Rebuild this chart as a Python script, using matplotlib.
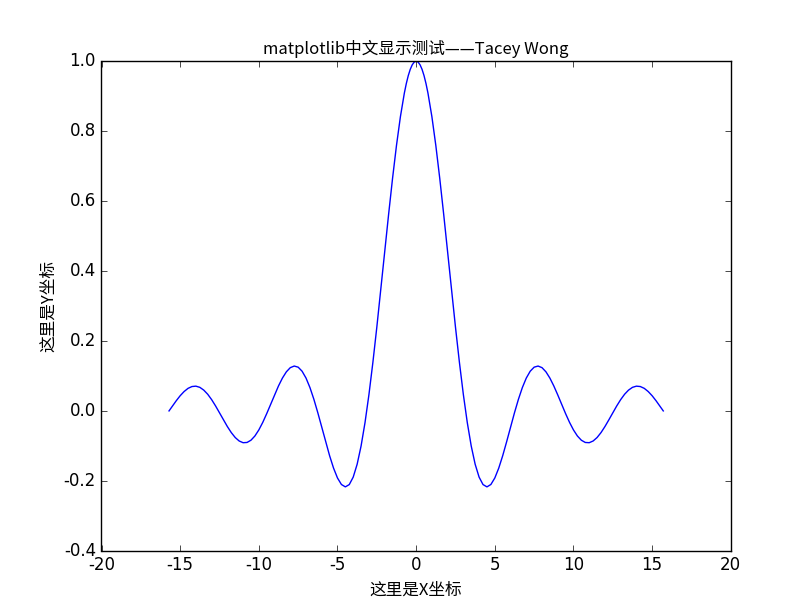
import matplotlib
matplotlib.use('Agg')
import matplotlib.pyplot as plt

plt.style.use('classic')
plt.rcParams['axes.unicode_minus'] = False

x_pos = [0.0, 0.125, 0.25, 0.375, 0.5, 0.625, 0.75, 1.0, 1.25, 1.5, 1.75,
         2.0, 2.25, 2.5, 2.75, 3.0, 3.25, 3.5, 3.75, 4.0, 4.25, 4.5, 4.75,
         5.0, 5.25, 5.5, 5.75, 6.0, 6.25, 6.5, 6.75, 7.0, 7.25, 7.5, 7.75,
         8.0, 8.25, 8.5, 8.75, 9.0, 9.25, 9.5, 9.75, 10.0, 10.25, 10.5,
         10.75, 11.0, 11.25, 11.5, 11.75, 12.0, 12.25, 12.5, 12.75, 13.0,
         13.25, 13.5, 13.75, 14.0, 14.25, 14.5, 14.75, 15.0, 15.25, 15.5,
         15.708]
y_pos = [1.0, 0.9974, 0.9896, 0.9767, 0.9589, 0.9362, 0.9089, 0.8415,
         0.7592, 0.6650, 0.5623, 0.4546, 0.3458, 0.2394, 0.1388, 0.0470,
         -0.0333, -0.1002, -0.1524, -0.1892, -0.2106, -0.2172, -0.2104,
         -0.1918, -0.1636, -0.1283, -0.0884, -0.0466, -0.0053, 0.0331,
         0.0667, 0.0939, 0.1135, 0.1251, 0.1283, 0.1237, 0.1118, 0.0939,
         0.0714, 0.0458, 0.0188, -0.0079, -0.0328, -0.0544, -0.0717,
         -0.0838, -0.0902, -0.0909, -0.0860, -0.0761, -0.0620, -0.0447,
         -0.0254, -0.0053, 0.0143, 0.0323, 0.0477, 0.0595, 0.0674, 0.0708,
         0.0697, 0.0645, 0.0554, 0.0434, 0.0290, 0.0133, 0.0]

x_vals = [-v for v in x_pos[:0:-1]] + x_pos
y_vals = y_pos[:0:-1] + y_pos

titulo = 'matplotlib中文显示测试——Tacey Wong'
etiqueta_x = '这里是X坐标'
etiqueta_y = '这里是Y坐标'
cjk = ['Noto Sans CJK SC', 'DejaVu Sans']

fig = plt.figure(figsize=(8.12, 6.12), dpi=100, facecolor='white')
ax = fig.add_subplot(111)
ax.plot(x_vals, y_vals, color='blue', linewidth=1.0)
ax.set_xlim(-20, 20)
ax.set_ylim(-0.4, 1.0)
ax.set_title(titulo, family=cjk, fontsize=12)
ax.set_xlabel(etiqueta_x, family=cjk, fontsize=12)
ax.set_ylabel(etiqueta_y, family=cjk, fontsize=12)

fig.savefig('out.png', dpi=100, facecolor='white')
